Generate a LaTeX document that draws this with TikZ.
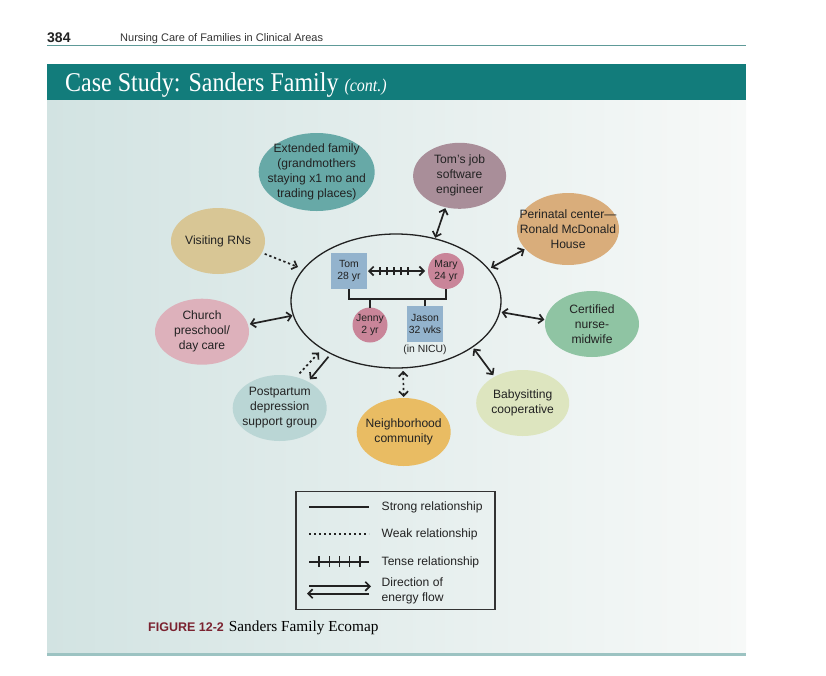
\documentclass[tikz,border=0pt]{standalone}
\usepackage{fontspec}
\setmainfont{Liberation Sans}
\newfontfamily\serifttl{Liberation Serif}
\usetikzlibrary{shapes.geometric,arrows.meta,decorations.markings}
\definecolor{bannerC}{HTML}{127C7B}
\definecolor{headLine}{HTML}{5E9A98}
\definecolor{bgL}{HTML}{D2E3E2}
\definecolor{bgR}{HTML}{F7F9F8}
\definecolor{ruleC}{HTML}{9CC3C2}
\definecolor{cExt}{HTML}{67A9A7}
\definecolor{cJob}{HTML}{A98E99}
\definecolor{cVis}{HTML}{D8C695}
\definecolor{cPeri}{HTML}{D9AD7B}
\definecolor{cCert}{HTML}{8FC4A3}
\definecolor{cBaby}{HTML}{DDE5BF}
\definecolor{cChurch}{HTML}{DDB1BB}
\definecolor{cPost}{HTML}{BAD6D5}
\definecolor{cNeigh}{HTML}{E9BC63}
\definecolor{cMale}{HTML}{93B3CD}
\definecolor{cFem}{HTML}{C98599}
\definecolor{inkC}{HTML}{222222}
\definecolor{capRed}{HTML}{7B2230}
\begin{document}
\begin{tikzpicture}[x=1pt,y=-1pt,
  oval/.style={ellipse,inner sep=0pt,outer sep=0pt,draw=none},
  lab/.style={align=center,inner sep=0pt,text=inkC,font=\fontsize{12.1}{15}\selectfont},
  small/.style={align=center,inner sep=0pt,text=inkC,font=\fontsize{10.4}{12}\selectfont},
  sqbox/.style={rectangle,fill=cMale,minimum width=36pt,minimum height=36pt,inner sep=0pt,outer sep=0pt},
  circbox/.style={circle,fill=cFem,minimum size=#1,inner sep=0pt,outer sep=0pt},
  conn/.style={line width=1.7pt,draw=inkC,>={Straight Barb[length=4.5pt,width=9pt]}},
  weakline/.style={conn,dash pattern=on 2.3pt off 2.7pt},
  tense/.style={conn,postaction={decorate},decoration={markings,#1}},
  tick/.style={-,shorten <=0pt,shorten >=0pt,line width=1.4pt,solid},
]
\useasboundingbox (0,0) rectangle (826,675);
% page header
\node[anchor=base west,inner sep=0pt,font=\bfseries\fontsize{14}{14}\selectfont,text=inkC] (pg) at (47,42) {384};
\node[anchor=base west,inner sep=0pt,font=\fontsize{11}{11}\selectfont,text=black!80] (hd) at (120,41) {Nursing Care of Families in Clinical Areas};
\draw[headLine,line width=0.9pt] (47,45.5) -- (746,45.5);
% banner and panel
\fill[bannerC] (47,63.5) rectangle (746,100);
\node[anchor=base west,inner sep=0pt,text=white,font=\serifttl\fontsize{24}{24}\selectfont] (title) at (65,91)
  {\scalebox{1}[1.13]{Case Study: Sanders Family {\itshape\fontsize{16}{16}\selectfont (cont.)}}};
\shade[left color=bgL,right color=bgR] (47,100) rectangle (746,652.5);
\fill[ruleC] (47,652.5) rectangle (746,656);

% central family ellipse
\node[ellipse,draw=inkC,line width=1.3pt,minimum width=210pt,minimum height=134pt,inner sep=0pt,outer sep=0pt] (fam) at (396,301) {};
\node[sqbox] (tom) at (349,271) {};
\node[small] (tomt) at (tom) {Tom\\28 yr};
\node[circbox=36pt] (mary) at (446,271) {};
\node[small] (maryt) at (mary) {Mary\\24 yr};
\node[circbox=35pt] (jenny) at (370,325) {};
\node[small] (jennyt) at (jenny) {Jenny\\2 yr};
\node[sqbox,minimum height=35.5pt] (jason) at (425,324) {};
\node[small] (jasont) at (jason) {Jason\\32 wks};
\node[small,anchor=north] (nicu) at (425,344.5) {(in NICU)};
\coordinate (bar) at (396,299);
\draw[inkC,line width=1.2pt] (tom.south) -- (tom.south |- bar) -- (mary.south |- bar) -- (mary.south);
\draw[inkC,line width=1.2pt] (jenny.north) -- (jenny.north |- bar);
\draw[inkC,line width=1.2pt] (jason.north) -- (jason.north |- bar);
\draw[tense={mark=between positions 13pt and 42pt step 7pt with {\draw[tick] (0,-4pt) -- (0,4pt);}},<->,shorten <=1pt,shorten >=3pt] (tom.east) -- (mary.west);

% outer systems
\node[oval,fill=cExt,minimum width=116pt,minimum height=78pt] (ext) at (316.7,172) {};
\node[lab] (extt) at (ext) {Extended family\\(grandmothers\\staying x1 mo and\\trading places)};
\node[oval,fill=cJob,minimum width=93pt,minimum height=66pt] (job) at (459.6,175.8) {};
\node[lab] (jobt) at (job) {Tom's job\\software\\engineer};
\node[oval,fill=cVis,minimum width=94pt,minimum height=66pt] (vis) at (218,241) {};
\node[lab] (vist) at (vis) {Visiting RNs};
\node[oval,fill=cPeri,minimum width=102pt,minimum height=72pt] (peri) at (568,229) {};
\node[lab] (perit) at (peri) {Perinatal center—\\Ronald McDonald\\House};
\node[oval,fill=cCert,minimum width=94pt,minimum height=66pt] (cert) at (592,324) {};
\node[lab] (certt) at (cert) {Certified\\nurse-\\midwife};
\node[oval,fill=cBaby,minimum width=93pt,minimum height=66pt] (baby) at (522.7,403) {};
\node[lab] (babyt) at (baby) {Babysitting\\cooperative};
\node[oval,fill=cChurch,minimum width=94pt,minimum height=66pt] (church) at (202,331.7) {};
\node[lab] (churcht) at (church) {Church\\preschool/\\day care};
\node[oval,fill=cPost,minimum width=94pt,minimum height=66pt] (post) at (279.7,408) {};
\node[lab] (postt) at (post) {Postpartum\\depression\\support group};
\node[oval,fill=cNeigh,minimum width=94pt,minimum height=68pt] (neigh) at (403.7,432) {};
\node[lab] (neight) at (neigh) {Neighborhood\\community};

% connectors
\draw[conn,<->,shorten <=1pt,shorten >=1pt] (fam.58.6) -- (job.246.3);
\draw[weakline,->,shorten <=3pt,shorten >=6pt] (vis.-15.5) -- (fam.161.7);
\draw[conn,<->,shorten <=3pt,shorten >=1pt] (fam.19.7) -- (peri.205.5);
\draw[conn,<->,shorten <=2pt,shorten >=1pt] (fam.-6) -- (cert.175.2);
\draw[conn,<->,shorten <=2pt,shorten >=2pt] (fam.-31.9) -- (baby.137.6);
\draw[conn,<->,shorten <=2pt,shorten >=1pt] (church.9.1) -- (fam.-172.4);
\draw[weakline,->,shorten <=5pt,shorten >=5pt] (post.62.6) -- (fam.-147.9);
\draw[conn,->,shorten <=4pt,shorten >=3pt] (fam.-141.1) -- (post.43.7);
\draw[weakline,<->,shorten <=3pt,shorten >=1pt] (fam.-84.3) -- (neigh.north);

% legend
\node[draw=black!80,line width=1.2pt,minimum width=199pt,minimum height=117.6pt,inner sep=0pt] (legend) at (395.5,550.5) {};
\coordinate (l1a) at (309,507); \coordinate (l1b) at (369,507);
\coordinate (l2a) at (309,534); \coordinate (l2b) at (369,534);
\coordinate (l3a) at (309,561.7); \coordinate (l3b) at (369,561.7);
\coordinate (l4a) at (309,586.3); \coordinate (l4b) at (371,586.3);
\coordinate (l5a) at (369,593.7); \coordinate (l5b) at (307,593.7);
\draw[conn] (l1a) -- (l1b);
\draw[weakline] (l2a) -- (l2b);
\draw[tense={mark=between positions 10pt and 52pt step 10.25pt with {\draw[tick] (0,-5.5pt) -- (0,5.5pt);}}] (l3a) -- (l3b);
\draw[conn,->] (l4a) -- (l4b);
\draw[conn,->] (l5a) -- (l5b);
\node[lab,anchor=west] (t1) at (381.5,507) {Strong relationship};
\node[lab,anchor=west] (t2) at (381.5,534) {Weak relationship};
\node[lab,anchor=west] (t3) at (381.5,562) {Tense relationship};
\node[lab,anchor=west,align=left] (t4) at (381.5,591) {Direction of\\energy flow};

% caption
\node[anchor=base west,inner sep=0pt] (cap) at (148,631)
  {\textcolor{capRed}{\bfseries\fontsize{12.5}{12.5}\selectfont FIGURE 12-2}\hspace{5pt}{\serifttl\fontsize{15.3}{15.3}\selectfont Sanders Family Ecomap}};
\end{tikzpicture}
\end{document}
